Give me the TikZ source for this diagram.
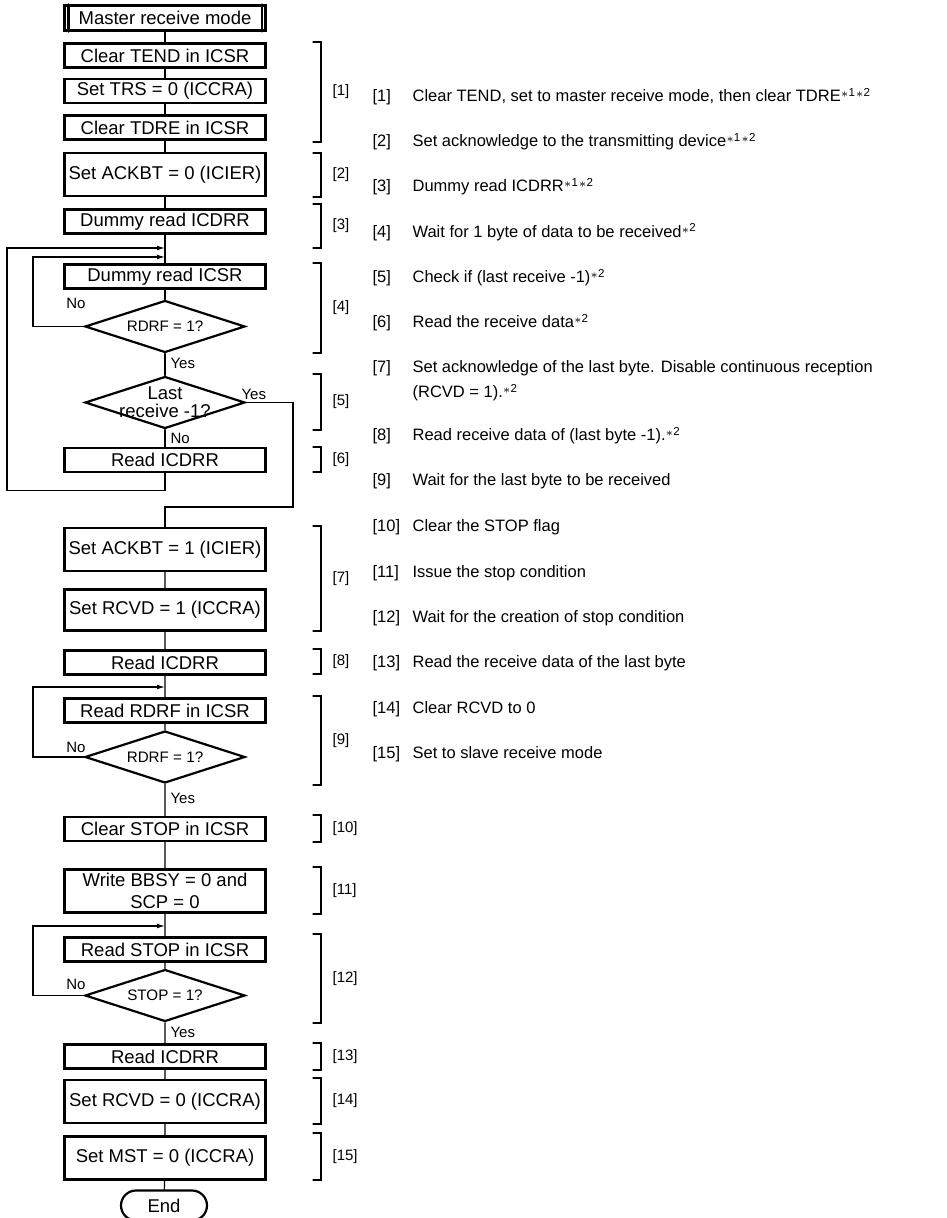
\documentclass[tikz,border=0pt]{standalone}
\usepackage{fontspec}
\setmainfont{Liberation Sans}
\usetikzlibrary{shapes.geometric,arrows.meta}
\newcommand{\fnmark}[1]{\textsuperscript{\raisebox{-0.25ex}{$\ast$}#1}}

\begin{document}
\begin{tikzpicture}[x=0.5pt,y=-0.5pt,line cap=round,line width=0.6pt,>={Latex[length=4pt,width=2.4pt]},
	box/.style={draw,line width=1.1pt,minimum width=100.5pt,minimum height=12pt,inner sep=0pt,align=center,font=\fontsize{9.25}{11}\selectfont},
	tall/.style={box,minimum height=21.5pt},
	dia/.style={draw,diamond,aspect=3,line width=1.1pt,minimum width=80pt,minimum height=26pt,inner sep=0pt,font=\fontsize{7.6}{9}\selectfont},
	lbl/.style={inner sep=0pt,font=\fontsize{7.5}{9}\selectfont},
	note/.style={inner sep=0pt,anchor=base west,font=\fontsize{8.25}{10}\selectfont}]
	\useasboundingbox (0,0) rectangle (946,1218);
	% flow
	\node[box,minimum height=12.5pt] (mrm) at (165,18) {Master receive mode};
	\draw[line width=1.1pt] ([xshift=2.5pt]mrm.north west)--([xshift=2.5pt]mrm.south west)
	([xshift=-2.5pt]mrm.north east)--([xshift=-2.5pt]mrm.south east);
	\node[box] (ctend) at (165,55.5) {Clear TEND in ICSR};
	\node[box] (strs) at (165,91) {Set TRS = 0 (ICCRA)};
	\node[box] (ctdre) at (165,127.5) {Clear TDRE in ICSR};
	\node[tall] (sack0) at (165,174.5) {Set ACKBT = 0 (ICIER)};
	\node[box] (drd) at (165,221.5) {Dummy read ICDRR};
	\node[box] (drics) at (165,276.5) {Dummy read ICSR};
	\node[dia] (rdrf1) at (165,326.5) {RDRF = 1?};
	\node[dia] (last) at (165,402.5) {};
	\node[inner sep=0pt,align=center,font=\fontsize{9.25}{9}\selectfont] (lasttxt) at (last) {Last\\receive -1?};
	\node[box] (rdrr1) at (165,460) {Read ICDRR};
	\node[tall] (sack1) at (165,549.5) {Set ACKBT = 1 (ICIER)};
	\node[tall,minimum height=20.5pt] (srcvd1) at (165,610) {Set RCVD = 1 (ICCRA)};
	\node[box] (rdrr2) at (165,662.5) {Read ICDRR};
	\node[box] (rrdrf) at (165,710.5) {Read RDRF in ICSR};
	\node[dia] (rdrf2) at (165,757) {RDRF = 1?};
	\node[box] (cstop) at (165,829) {Clear STOP in ICSR};
	\node[tall] (wbbsy) at (165,891) {Write BBSY = 0 and\\SCP = 0};
	\node[box] (rstop) at (165,949.5) {Read STOP in ICSR};
	\node[dia] (stop1) at (165,995.5) {STOP = 1?};
	\node[box] (rdrr3) at (165,1056.5) {Read ICDRR};
	\node[tall] (srcvd0) at (165,1101.5) {Set RCVD = 0 (ICCRA)};
	\node[tall] (smst) at (165,1158) {Set MST = 0 (ICCRA)};
	\node[draw,line width=1.1pt,rounded corners=7.5pt,minimum width=43pt,minimum height=15pt,inner sep=0pt,font=\fontsize{9.25}{11}\selectfont] (end) at (164,1205.5) {End};
	\coordinate (j1) at (165,248);
	\coordinate (j2) at (165,257);
	\coordinate (j3) at (165,687);
	\coordinate (j4) at (165,926);
	\draw (mrm)--(ctend)--(strs)--(ctdre)--(sack0)--(drd)--(drics)--(rdrf1)--(last)--(rdrr1);
	\draw (sack1)--(srcvd1)--(rdrr2)--(rrdrf)--(rdrf2)--(cstop)--(wbbsy)--(rstop)--(stop1)--(rdrr3)--(srcvd0)--(smst)--(end);
	\draw[->] (rdrr1.south)--++(0,17)-|(7,248)--(j1);
	\draw[->] (rdrf1.west)-|(33,257)--(j2);
	\draw (last.east)-|(293,507)-|(sack1.north);
	\draw[->] (rdrf2.west)-|(33,687)--(j3);
	\draw[->] (stop1.west)-|(33,926)--(j4);
	\node[lbl] (no1) at (76,303) {No};
	\node[lbl,anchor=west] (yes1) at (170,363) {Yes};
	\node[lbl,anchor=west] (yes2) at (241,394) {Yes};
	\node[lbl,anchor=west] (no2) at (170,438) {No};
	\node[lbl] (no3) at (76,747) {No};
	\node[lbl,anchor=west] (yes3) at (170,798) {Yes};
	\node[lbl] (no4) at (76,984) {No};
	\node[lbl,anchor=west] (yes4) at (170,1032) {Yes};
	% brackets
	\foreach \t/\b/\n in {42/142/1,153/197/2,204/248/3,263/353/4,374/430/5,447/472/6,526/631/7,649/674/8,696/785/9,815/842/10,867/914/11,934/1023/12,1043/1070/13,1078/1124/14,1133/1180/15}{
		\draw (313,\t)-|(321,\b)--(313,\b);
		\node[lbl,anchor=west] (br\n) at (332,{(\t+\b)/2}) {[\n]};
	}
	% notes
	\foreach \n/\y/\s in {1/102/{Clear TEND, set to master receive mode, then clear TDRE\fnmark{1}\fnmark{2}},
		2/147/{Set acknowledge to the transmitting device\fnmark{1}\fnmark{2}},
		3/192/{Dummy read ICDRR\fnmark{1}\fnmark{2}},
		4/237.5/{Wait for 1 byte of data to be received\fnmark{2}},
		5/283/{Check if (last receive -1)\fnmark{2}},
		6/328/{Read the receive data\fnmark{2}},
		7/373/{Set acknowledge of the last byte. Disable continuous reception},
		8/441/{Read receive data of (last byte -1).\fnmark{2}},
		9/486/{Wait for the last byte to be received},
		10/531.5/{Clear the STOP flag},
		11/577/{Issue the stop condition},
		12/622/{Wait for the creation of stop condition},
		13/667.5/{Read the receive data of the last byte},
		14/713/{Clear RCVD to 0},
		15/758/{Set to slave receive mode}}{
		\node[note] (n\n) at (372,\y) {[\n]};
		\node[note] (d\n) at (412,\y) {\s};
	}
	\node[note] (d7b) at (412,398) {(RCVD = 1).\fnmark{2}};
\end{tikzpicture}
\end{document}
